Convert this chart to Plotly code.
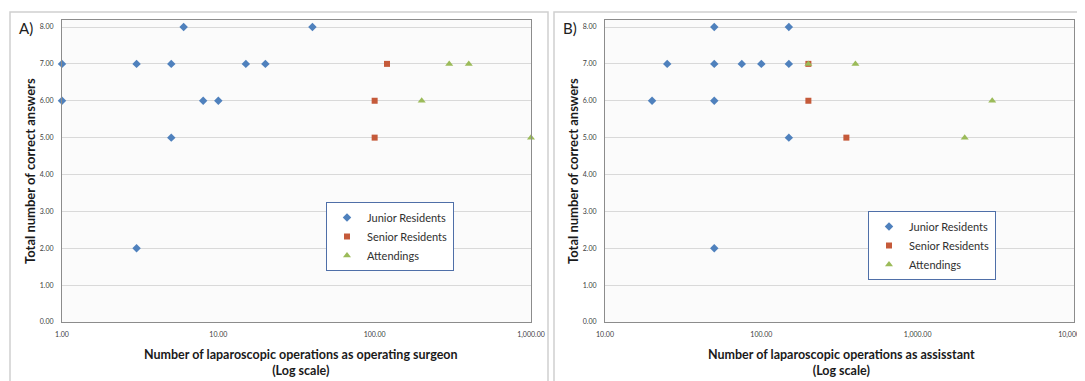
import plotly.graph_objects as go

# ---- Data ----
# Panel A: operations as operating surgeon
a_junior_x = [1, 1, 3, 5, 6, 8, 10, 15, 20, 40, 5, 3]
a_junior_y = [7, 6, 7, 7, 8, 6, 6, 7, 7, 8, 5, 2]
a_senior_x = [120, 100, 100]
a_senior_y = [7, 6, 5]
a_attend_x = [300, 400, 200, 1000]
a_attend_y = [7, 7, 6, 5]

# Panel B: operations as assistant
b_junior_x = [20, 25, 50, 50, 50, 50, 75, 100, 150, 150, 150]
b_junior_y = [6, 7, 8, 7, 6, 2, 7, 7, 8, 7, 5]
b_senior_x = [200, 200, 350]
b_senior_y = [7, 6, 5]
b_attend_x = [200, 400, 3000, 2000]
b_attend_y = [7, 7, 6, 5]

series_names = ["Junior Residents", "Senior Residents", "Attendings"]
a_xticks = [1, 10, 100, 1000]
a_xticklabels = ["1.00", "10.00", "100.00", "1,000.00"]
b_xticks = [10, 100, 1000, 10000]
b_xticklabels = ["10.00", "100.00", "1,000.00", "10,000.00"]
yticks = [0, 1, 2, 3, 4, 5, 6, 7, 8]
yticklabels = ["0.00", "1.00", "2.00", "3.00", "4.00", "5.00", "6.00", "7.00", "8.00"]

# page has an 8px body margin: size the figure so it fills the window exactly
OFF = 8
W, H = 1085 - OFF, 381 - OFF
BLUE, RED, GREEN = "#4f81bd", "#c55a3a", "#9bbb59"
FONT = "Lato"

def px(x):
    return (x - OFF) / W

def py(y):
    return 1 - (y - OFF) / H

fig = go.Figure()

styles = [("diamond", BLUE, 6.5), ("square", RED, 6), ("triangle-up", GREEN, 7)]
panels = [
    ("x", "y", "legend", [(a_junior_x, a_junior_y), (a_senior_x, a_senior_y), (a_attend_x, a_attend_y)]),
    ("x2", "y2", "legend2", [(b_junior_x, b_junior_y), (b_senior_x, b_senior_y), (b_attend_x, b_attend_y)]),
]
for xa, ya, lg, data in panels:
    for (xs, ys), name, (sym, col, sz) in zip(data, series_names, styles):
        fig.add_trace(go.Scatter(
            x=xs, y=ys, mode="markers", name=name, xaxis=xa, yaxis=ya, legend=lg,
            marker=dict(symbol=sym, color=col, size=sz, line=dict(width=0)),
            cliponaxis=False,
        ))

ydom = [py(322), py(20)]
common_x = dict(type="log", showgrid=False, zeroline=False, showline=True, mirror=True,
                linecolor="#8c8c8c", linewidth=1, ticks="", ticklabelstandoff=6, automargin=False,
                ticklabeloverflow="allow",
                tickfont=dict(family=FONT, size=7, color="#404040"))
common_y = dict(range=[0, 8.19], showgrid=True, gridcolor="#d9d9d9", gridwidth=1,
                zeroline=False, showline=True, mirror=True, linecolor="#8c8c8c", linewidth=1,
                tickvals=yticks, ticktext=yticklabels, ticks="", ticklabelstandoff=6, automargin=False,
                tickfont=dict(family=FONT, size=7, color="#404040"))

legend_style = dict(xanchor="left", yanchor="top", bgcolor="white", bordercolor="#4f6fa8",
                    borderwidth=1, font=dict(family=FONT, size=11, color="#303030"),
                    itemwidth=30, tracegroupgap=0)

fig.update_layout(
    width=W, height=H, margin=dict(l=0, r=0, t=0, b=0, autoexpand=False),
    paper_bgcolor="white", plot_bgcolor="#fbfbfb",
    font=dict(family=FONT, color="#202020"),
    xaxis=dict(domain=[px(62), px(531)], range=[0, 3.0002], tickvals=a_xticks, ticktext=a_xticklabels,
               anchor="y", **common_x),
    yaxis=dict(domain=ydom, anchor="x", **common_y),
    xaxis2=dict(domain=[px(605), px(1074)], range=[1, 4.0002], tickvals=b_xticks, ticktext=b_xticklabels,
                anchor="y2", **common_x),
    yaxis2=dict(domain=ydom, anchor="x2", **common_y),
    legend=dict(x=px(326), y=py(202), **legend_style),
    legend2=dict(x=px(868), y=py(211), **legend_style),
    showlegend=True,
)

# panel borders
fig.add_shape(type="rect", xref="paper", yref="paper", x0=px(10), x1=px(548), y0=py(395), y1=py(12),
              line=dict(color="#d0d0d0", width=1.5), layer="below")
fig.add_shape(type="rect", xref="paper", yref="paper", x0=px(554), x1=px(1100), y0=py(395), y1=py(12),
              line=dict(color="#d0d0d0", width=1.5), layer="below")

ann = []
for xc, lab in [(17, "A)"), (561, "B)")]:
    ann.append(dict(text=lab, x=px(xc), y=py(28), xref="paper", yref="paper", xanchor="left",
                    yanchor="middle", showarrow=False, font=dict(family=FONT, size=15, color="#202020")))
for xc in [30, 573]:
    ann.append(dict(text="<b>Total number of correct answers</b>", x=px(xc), y=py(171), xref="paper",
                    yref="paper", textangle=-90, showarrow=False, xanchor="center", yanchor="middle",
                    font=dict(family=FONT, size=13, color="#1a1a1a")))
for xc, t in [(301, "Number of laparoscopic operations as operating surgeon"),
              (841, "Number of laparoscopic operations as assisstant")]:
    ann.append(dict(text=f"<b>{t}<br>(Log scale)</b>", x=px(xc), y=py(362), xref="paper", yref="paper",
                    showarrow=False, xanchor="center", yanchor="middle",
                    font=dict(family=FONT, size=12.5, color="#1a1a1a")))
fig.update_layout(annotations=ann)

fig.write_html("out.html")
